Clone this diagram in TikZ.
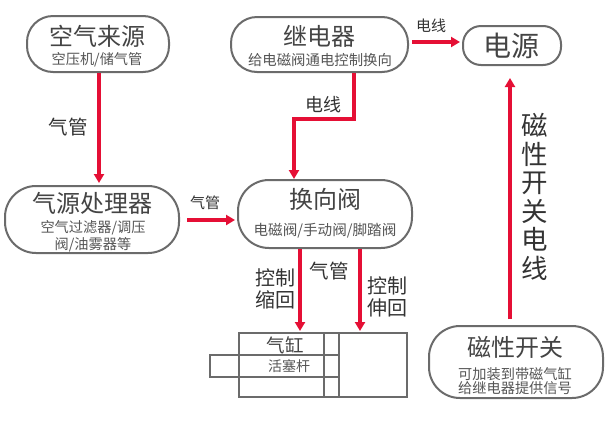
\documentclass[tikz,border=0pt]{standalone}
\usepackage{fontspec}
\setmainfont{Noto Sans CJK SC}
\usetikzlibrary{arrows.meta,calc}
\definecolor{linegray}{HTML}{6B6B6B}
\definecolor{textgray}{HTML}{444444}
\definecolor{subgray}{HTML}{555555}
\definecolor{flowred}{HTML}{E50F35}
\newcommand{\fs}[1]{\fontsize{#1}{#1}\selectfont}
\tikzset{
  x=1pt,y=-1pt,
  box/.style={draw=linegray,line width=2pt,fill=white,inner sep=0pt},
  title/.style={text=textgray,inner sep=0pt,font=\fs{24}},
  sub/.style={text=subgray,inner sep=0pt,font=\fs{14.2},align=center},
  lab/.style={text=black!80,inner sep=0pt,font=\fs{19.5},align=center},
  flow/.style={draw=flowred,line width=3.2pt,-{Triangle[length=9pt,width=10pt]}},
  cyl/.style={draw=linegray,line width=2pt,inner sep=0pt,minimum width=0pt}
}
\begin{document}
\begin{tikzpicture}
\useasboundingbox (0,0) rectangle (607,437);
\fill[white] (0,0) rectangle (607,437);
% boxes
\node[box,rounded corners=26pt,minimum width=142pt,minimum height=56pt] (air) at (98,44) {};
\node[box,rounded corners=26pt,minimum width=177pt,minimum height=55pt] (relay) at (319.5,44.5) {};
\node[box,rounded corners=18pt,minimum width=98pt,minimum height=39pt] (power) at (512,45.5) {};
\node[box,rounded corners=31pt,minimum width=174pt,minimum height=67pt] (treat) at (92,219.5) {};
\node[box,rounded corners=31pt,minimum width=174pt,minimum height=68pt] (valve) at (325,214) {};
\node[box,rounded corners=31pt,minimum width=174pt,minimum height=72pt] (switch) at (516,362) {};
% texts in boxes
\node[title] (t1) at (97,36) {空气来源};
\node[sub] (s1) at (97,60) {空压机/储气管};
\node[title] (t2) at (319,36) {继电器};
\node[sub,font=\fs{14.4}] (s2) at (320,60.5) {给电磁阀通电控制换向};
\node[title,font=\fs{28}] (t3) at (511,46) {电源};
\node[title] (t4) at (92,203) {气源处理器};
\node[sub] (s4) at (93,236) {空气过滤器/调压\\[1pt]阀/油雾器等};
\node[title] (t5) at (325,199) {换向阀};
\node[sub,font=\fs{14.6}] (s5) at (325,231) {电磁阀/手动阀/脚踏阀};
\node[title] (t6) at (515,347) {磁性开关};
\node[sub] (s6) at (515,381) {可加装到带磁气缸\\[0pt]给继电器提供信号};
% cylinder
\node[cyl,minimum width=168pt,minimum height=64pt] (cyl) at (323,365) {};
\node[cyl,minimum width=15pt,minimum height=64pt] (piston) at (331.5,365) {};
\node[cyl,minimum width=129pt,minimum height=22pt] (rod) at (274.5,366) {};
\node[title,font=\fs{18.5}] (c1) at (285,345) {气缸};
\node[sub,font=\fs{14}] (c2) at (289,366) {活塞杆};
% connectors
\coordinate (e1) at (354,119);
\coordinate (e2) at (294,119);
\coordinate (vtop) at (294,179);
\draw[flow] ([xshift=1pt]air.south) -- ([xshift=7pt,yshift=2pt]treat.north);
\draw[flow] ([xshift=7pt,yshift=-0.5pt]treat.east) -- ([xshift=-2pt,yshift=-6pt]valve.west);
\draw[flow] ([yshift=2.5pt,xshift=3pt]relay.east) -- ([yshift=3.5pt,xshift=-2pt]power.west);
\draw[draw=flowred,line width=3.2pt] ([xshift=34.5pt]relay.south) -- (e1);
\draw[flow,line join=miter] ([xshift=1.6pt]e1) -- (e2) -- (vtop);
\draw[flow] ([xshift=-6pt,yshift=6pt]switch.north) -- ([xshift=-2pt,yshift=-12pt]power.south);
\draw[flow] ([xshift=-25pt]valve.south) -- ([xshift=-23pt,yshift=1pt]cyl.north);
\draw[flow] ([xshift=35pt]valve.south) -- ([xshift=37pt,yshift=1pt]cyl.north);
% labels
\node[lab] (l1) at (68,127) {气管};
\node[lab,font=\fs{15}] (l2) at (205,203) {气管};
\node[lab,font=\fs{15}] (l3) at (431,26) {电线};
\node[lab,font=\fs{18}] (l4) at (323,105) {电线};
\node[lab,font=\fs{20}] (l5) at (275,289) {控制\\[2pt]缩回};
\node[lab] (l6) at (329,271) {气管};
\node[lab,font=\fs{20}] (l7) at (387,297) {控制\\[2pt]伸回};
\node[lab,font=\fs{26.5}] (l8) at (535,197) {磁\\[2pt]性\\[2pt]开\\[2pt]关\\[2pt]电\\[2pt]线};
\end{tikzpicture}
\end{document}
